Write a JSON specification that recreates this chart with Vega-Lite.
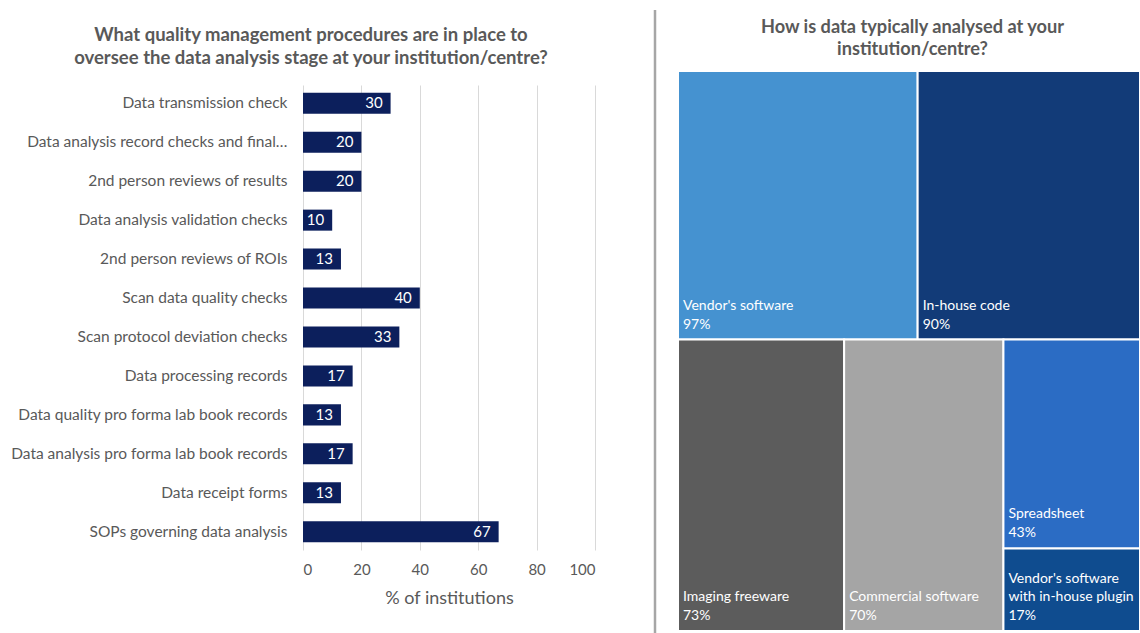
{
  "$schema": "https://vega.github.io/schema/vega-lite/v6.json",
  "background": "white",
  "padding": {"left": 10, "top": 8, "right": 0, "bottom": 0},
  "autosize": {"type": "pad"},
  "bounds": "flush",
  "spacing": 60,
  "config": {"font": "Lato", "view": {"stroke": null}},
  "hconcat": [
    {
      "width": 292,
      "height": 465,
      "title": {
        "text": ["What quality management procedures are in place to", "oversee the data analysis stage at your institution/centre?"],
        "fontSize": 18.5, "fontWeight": "bold", "color": "#595959", "font": "Lato",
        "anchor": "middle", "frame": "group", "dx": -138, "offset": -1, "baseline": "bottom", "lineHeight": 23
      },
      "data": {"values": [
        {"procedure": "Data transmission check", "pct": 30},
        {"procedure": "Data analysis record checks and final…", "pct": 20},
        {"procedure": "2nd person reviews of results", "pct": 20},
        {"procedure": "Data analysis validation checks", "pct": 10},
        {"procedure": "2nd person reviews of ROIs", "pct": 13},
        {"procedure": "Scan data quality checks", "pct": 40},
        {"procedure": "Scan protocol deviation checks", "pct": 33},
        {"procedure": "Data processing records", "pct": 17},
        {"procedure": "Data quality pro forma lab book records", "pct": 13},
        {"procedure": "Data analysis pro forma lab book records", "pct": 17},
        {"procedure": "Data receipt forms", "pct": 13},
        {"procedure": "SOPs governing data analysis", "pct": 67}
      ]},
      "encoding": {
        "y": {
          "field": "procedure", "type": "nominal", "sort": null,
          "scale": {"paddingInner": 0.46, "paddingOuter": 0.2},
          "axis": {"title": null, "labelFontSize": 15.5, "labelColor": "#595959", "labelPadding": 16, "ticks": false, "domain": false, "labelLimit": 400}
        }
      },
      "layer": [
        {
          "mark": {"type": "bar", "color": "#0c1f5c"},
          "encoding": {
            "x": {
              "field": "pct", "type": "quantitative",
              "scale": {"domain": [0, 100], "nice": false},
              "axis": {
                "values": [0, 20, 40, 60, 80, 100], "title": "% of institutions",
                "titleFontSize": 18, "titleColor": "#595959", "titleFontWeight": "normal", "titlePadding": 12,
                "labelFontSize": 15, "labelColor": "#595959", "labelPadding": 12,
                "ticks": false, "domain": false, "grid": true, "gridColor": "#d9d9d9", "gridWidth": 1
              }
            }
          }
        },
        {
          "mark": {"type": "text", "align": "right", "dx": -8, "color": "white", "fontSize": 15},
          "encoding": {
            "x": {"field": "pct", "type": "quantitative"},
            "text": {"field": "pct", "type": "quantitative"}
          }
        }
      ]
    },
    {
      "width": 485,
      "height": 550,
      "title": {
        "text": ["How is data typically analysed at your", "institution/centre?"],
        "fontSize": 18.2, "fontWeight": "bold", "color": "#595959", "font": "Lato",
        "anchor": "middle", "frame": "group", "dx": 15, "offset": -68, "baseline": "bottom", "lineHeight": 22
      },
      "layer": [
        {
          "data": {"values": [{"sep": "separator"}]},
          "mark": {"type": "rule", "color": "#a6a6a6", "strokeWidth": 2.5},
          "encoding": {
            "x": {"datum": -0.04978, "type": "quantitative", "scale": {"domain": [-0.04978, 1], "nice": false, "zero": false}, "axis": null},
            "y": {"datum": -0.10893, "type": "quantitative", "scale": {"domain": [0.025, 1.00714], "nice": false, "zero": false, "reverse": true}, "axis": null},
            "y2": {"datum": 1.00714}
          }
        },
        {
          "data": {"values": [
            {"name": "Vendor's software", "line1": "", "line2": "Vendor's software", "share": 0.97, "x0": 0, "x1": 0.51872, "y0": 0, "y1": 0.47949},
            {"name": "In-house code", "line1": "", "line2": "In-house code", "share": 0.90, "x0": 0.51872, "x1": 1, "y0": 0, "y1": 0.47949},
            {"name": "Imaging freeware", "line1": "", "line2": "Imaging freeware", "share": 0.73, "x0": 0, "x1": 0.35961, "y0": 0.47949, "y1": 1},
            {"name": "Commercial software", "line1": "", "line2": "Commercial software", "share": 0.70, "x0": 0.35961, "x1": 0.70443, "y0": 0.47949, "y1": 1},
            {"name": "Spreadsheet", "line1": "", "line2": "Spreadsheet", "share": 0.43, "x0": 0.70443, "x1": 1, "y0": 0.47949, "y1": 0.85252},
            {"name": "Vendor's software with in-house plugin", "line1": "Vendor's software", "line2": "with in-house plugin", "share": 0.17, "x0": 0.70443, "x1": 1, "y0": 0.85252, "y1": 1}
          ]},
          "layer": [
            {
              "mark": {"type": "rect", "stroke": "white", "strokeWidth": 2},
              "encoding": {
                "x": {"field": "x0", "type": "quantitative"},
                "x2": {"field": "x1"},
                "y": {"field": "y0", "type": "quantitative"},
                "y2": {"field": "y1"},
                "color": {
                  "field": "name", "type": "nominal", "legend": null,
                  "scale": {
                    "domain": ["Vendor's software", "In-house code", "Imaging freeware", "Commercial software", "Spreadsheet", "Vendor's software with in-house plugin"],
                    "range": ["#4592d0", "#123b78", "#5c5c5c", "#a5a5a5", "#2b6cc4", "#0f4c8f"]
                  }
                }
              }
            },
            {
              "mark": {"type": "text", "align": "left", "baseline": "bottom", "dx": 5, "dy": -45, "color": "white", "fontSize": 14},
              "encoding": {
                "x": {"field": "x0", "type": "quantitative"},
                "y": {"field": "y1", "type": "quantitative"},
                "text": {"field": "line1", "type": "nominal"}
              }
            },
            {
              "mark": {"type": "text", "align": "left", "baseline": "bottom", "dx": 5, "dy": -27, "color": "white", "fontSize": 14},
              "encoding": {
                "x": {"field": "x0", "type": "quantitative"},
                "y": {"field": "y1", "type": "quantitative"},
                "text": {"field": "line2", "type": "nominal"}
              }
            },
            {
              "mark": {"type": "text", "align": "left", "baseline": "bottom", "dx": 5, "dy": -8, "color": "white", "fontSize": 14},
              "encoding": {
                "x": {"field": "x0", "type": "quantitative"},
                "y": {"field": "y1", "type": "quantitative"},
                "text": {"field": "share", "type": "quantitative", "format": ".0%"}
              }
            }
          ]
        }
      ]
    }
  ]
}
